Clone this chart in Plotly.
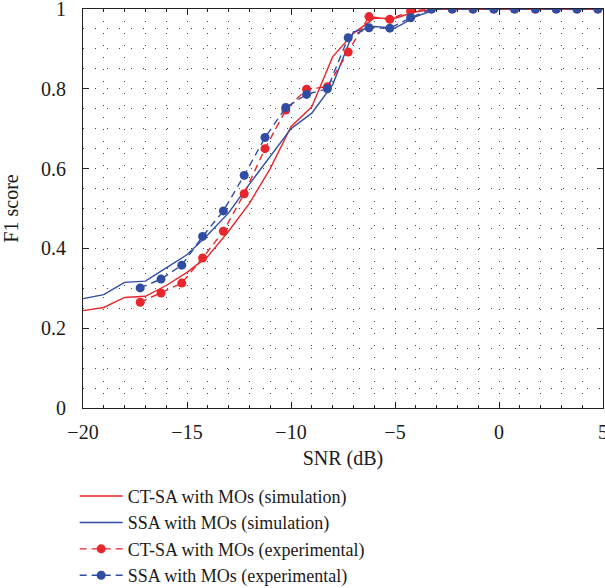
import numpy as np
import plotly.graph_objects as go

# Simulation curves (integer SNR)
snr_sim = [-20, -19, -18, -17, -16, -15, -14, -13, -12, -11, -10, -9, -8, -7, -6, -5, -4, -3, -2, -1, 0, 1, 2, 3, 4, 5]
ctsa_sim = [0.244, 0.252, 0.277, 0.280, 0.307, 0.340, 0.380, 0.443, 0.513, 0.600, 0.705, 0.755, 0.880, 0.939, 0.977, 0.977, 0.993, 1.0, 1.0, 1.0, 1.0, 1.0, 1.0, 1.0, 1.0, 1.0]
ssa_sim = [0.274, 0.284, 0.315, 0.318, 0.351, 0.384, 0.434, 0.489, 0.561, 0.629, 0.700, 0.739, 0.810, 0.943, 0.956, 0.952, 0.981, 1.0, 1.0, 1.0, 1.0, 1.0, 1.0, 1.0, 1.0, 1.0]

# Experimental curves
snr_exp = [-17.25, -16.25, -15.25, -14.25, -13.25, -12.25, -11.25, -10.25, -9.25, -8.25, -7.25, -6.25, -5.25, -4.25, -3.25, -2.25, -1.25, -0.25, 0.75, 1.75, 2.75, 3.75, 4.75]
ctsa_exp = [0.265, 0.288, 0.313, 0.376, 0.443, 0.537, 0.650, 0.747, 0.799, 0.805, 0.892, 0.981, 0.974, 0.995, 1.0, 1.0, 1.0, 1.0, 1.0, 1.0, 1.0, 1.0, 1.0]
ssa_exp = [0.301, 0.323, 0.358, 0.430, 0.494, 0.583, 0.678, 0.753, 0.786, 0.800, 0.928, 0.953, 0.952, 0.978, 1.0, 1.0, 1.0, 1.0, 1.0, 1.0, 1.0, 1.0, 1.0]

x_ticks = [-20, -15, -10, -5, 0, 5]
x_tick_labels = ["\u221220", "\u221215", "\u221210", "\u22125", "0", "5"]
y_ticks = [0, 0.2, 0.4, 0.6, 0.8, 1]
y_tick_labels = ["0", "0.2", "0.4", "0.6", "0.8", "1"]

RED = "#e8262b"
BLUE = "#2f4ea3"
FONT = "Liberation Serif, Times New Roman, serif"
TXT = "#1a1a1a"

fig = go.Figure()
fig.add_trace(go.Scatter(x=snr_sim, y=ctsa_sim, mode="lines", name="CT-SA with MOs (simulation)",
                         line=dict(color=RED, width=1.4)))
fig.add_trace(go.Scatter(x=snr_sim, y=ssa_sim, mode="lines", name="SSA with MOs (simulation)",
                         line=dict(color=BLUE, width=1.4)))
fig.add_trace(go.Scatter(x=snr_exp, y=ctsa_exp, mode="lines+markers", name="CT-SA with MOs (experimental)",
                         line=dict(color=RED, width=1.4, dash="7px,5px"), marker=dict(size=9, color=RED)))
fig.add_trace(go.Scatter(x=snr_exp, y=ssa_exp, mode="lines+markers", name="SSA with MOs (experimental)",
                         line=dict(color=BLUE, width=1.4, dash="7px,5px"), marker=dict(size=9, color=BLUE)))

grid_common = dict(showgrid=True, gridcolor="#444", gridwidth=1, griddash="1px,11px")

fig.update_xaxes(range=[-20, 5], tickvals=x_ticks, ticktext=x_tick_labels,
                 ticks="inside", ticklen=6, tickcolor="#222", showline=True, linecolor="#222", linewidth=1.2,
                 mirror="ticks", zeroline=False, ticklabeloverflow="allow", ticklabelstandoff=6,
                 minor=dict(dtick=1, ticks="inside", ticklen=3, tickcolor="#222",
                            showgrid=True, gridcolor="#444", gridwidth=1, griddash="1px,11px"),
                 title=dict(text="SNR (dB)", font=dict(family=FONT, size=20, color=TXT), standoff=8),
                 tickfont=dict(family=FONT, size=20, color=TXT),
                 **grid_common)
fig.update_yaxes(range=[0, 1], tickvals=y_ticks, ticktext=y_tick_labels,
                 ticks="inside", ticklen=6, tickcolor="#222", showline=True, linecolor="#222", linewidth=1.2,
                 mirror="ticks", zeroline=False, ticklabeloverflow="allow", ticklabelstandoff=12,
                 minor=dict(dtick=0.05, showgrid=True, gridcolor="#444", gridwidth=1, griddash="1px,11px"),
                 title=dict(text="F1 score", font=dict(family=FONT, size=20, color=TXT), standoff=16),
                 tickfont=dict(family=FONT, size=20, color=TXT),
                 **grid_common)

fig.update_layout(
    width=605, height=588,
    margin=dict(l=83, r=2, t=9, b=180, autoexpand=False),
    plot_bgcolor="white", paper_bgcolor="white",
    showlegend=True,
    legend=dict(x=-0.016, xanchor="left", y=-0.175, yanchor="top",
                font=dict(family=FONT, size=18, color=TXT),
                bgcolor="rgba(0,0,0,0)", itemwidth=43, tracegroupgap=0),
)

fig.write_html("out.html")
